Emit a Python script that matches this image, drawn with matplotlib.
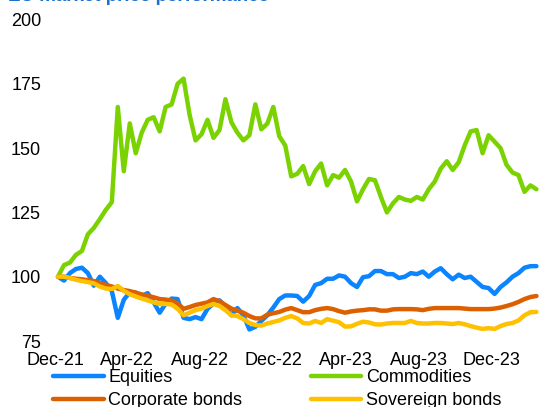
import matplotlib
matplotlib.use("Agg")
import matplotlib.pyplot as plt
import pandas as pd

plt.rcParams['font.family'] = ['Liberation Sans', 'DejaVu Sans']

title = "EU market price performance"
start_date = "2021-12-06"
step = "10D"
tick_dates = ["2021-12-01", "2022-04-01", "2022-08-01", "2022-12-01",
              "2023-04-01", "2023-08-01", "2023-12-01"]
tick_labels = ["Dec-21", "Apr-22", "Aug-22", "Dec-22", "Apr-23", "Aug-23", "Dec-23"]
y_ticks = [75, 100, 125, 150, 175, 200]

equities = [100, 98.5, 101.4, 103, 103.5, 101.4, 96.5, 100, 97.5, 94.4,
            84, 91, 94, 93.8, 92.5, 93.6, 90, 86, 89.5, 91.5,
            91.3, 84, 83.5, 84.3, 83.5, 87.5, 89.6, 90.8, 88.5, 85,
            87.8, 85, 79.5, 80.5, 82.8, 85, 88, 91.3, 92.7, 92.7,
            92.5, 90.3, 92.5, 96.8, 97.5, 99.2, 99.2, 100.5, 100, 97.5,
            96, 99.8, 100.2, 102.2, 102.2, 101, 101, 99.5, 100, 101.4,
            101, 102, 100, 102, 103.3, 101, 99, 100.8, 99.5, 100,
            98, 96, 95.6, 93.3, 96, 97.8, 100, 101.4, 103.5, 104.1,
            104.1]

commodities = [100, 104.5, 105.5, 108.5, 110, 116.5, 119, 122.4, 126, 129,
               166, 141, 159.6, 148, 156, 161, 162, 156.5, 166, 167,
               175, 177, 163, 153, 155.4, 161, 154, 157, 169, 160,
               156, 153, 155, 167, 157.3, 159.5, 166, 154.6, 151, 139,
               140, 143, 136, 141, 144, 135.5, 139.5, 138.5, 141.5, 137,
               129.3, 134, 138, 137.5, 131, 125, 128.5, 131, 130, 129.5,
               131, 130, 134, 137, 142, 144.9, 141.5, 144.5, 151, 156.5,
               157, 148, 155, 152.5, 150, 143.5, 140.5, 139.5, 133, 135.5,
               134]

corporate = [100, 100, 99.5, 99.2, 99, 98.6, 98.3, 97.5, 96.8, 96.2,
             95.4, 94.8, 94.4, 93.8, 93.1, 92.6, 92, 91.3, 91.1, 90.7,
             89.6, 87.5, 88.2, 89, 89.5, 90, 91.3, 90.5, 89, 87.6,
             86.8, 86, 84.7, 83.8, 83.8, 85.2, 85.8, 86.3, 87.2, 87.8,
             87, 86.2, 86.2, 87, 87.5, 87.8, 87.4, 86.6, 86, 86.5,
             86.8, 87, 87.3, 87.3, 86.8, 86.8, 87.3, 87.4, 87.4, 87.4,
             87.3, 87, 87.5, 87.8, 87.8, 87.8, 87.8, 87.8, 87.6, 87.4,
             87.4, 87.4, 87.4, 87.6, 88, 88.6, 89.3, 90.2, 91.3, 92.1,
             92.5]

sovereign = [100, 100, 99.5, 98.8, 98.3, 97.9, 97.4, 96.2, 95.4, 95.2,
             96.4, 94.5, 93.2, 92.3, 91.5, 90.8, 90, 89.4, 89.4, 89.2,
             87.5, 85, 86, 87, 87.6, 88.6, 89.4, 88.6, 87, 85,
             84.7, 83.5, 82, 81.2, 81, 81.8, 82.4, 83, 84, 84.7,
             83.8, 82, 81.8, 82.8, 82, 83.5, 82.9, 82.3, 80.6, 80.7,
             81.7, 82.5, 82.2, 81.5, 81.4, 81.8, 82, 82, 82, 82.8,
             82, 81.8, 81.8, 82, 82, 81.8, 81.6, 82, 81.5, 80.8,
             80.2, 79.7, 80, 79.7, 80.8, 81.6, 82, 83, 85, 86.2,
             86.3]

series_names = ["Equities", "Commodities", "Corporate bonds", "Sovereign bonds"]
colors = ["#0A84FF", "#7AD200", "#DC6000", "#FFC000"]

dates = pd.date_range(start_date, periods=len(equities), freq=step)

fig = plt.figure(figsize=(5.53, 4.07), dpi=100)
ax = fig.add_axes([55 / 553, 1 - 341 / 407, 491 / 553, 321.5 / 407])

handles = []
for name, vals, c in zip(series_names, [equities, commodities, corporate, sovereign], colors):
    h, = ax.plot(dates, vals, color=c, lw=3.2, solid_joinstyle='round',
                 solid_capstyle='round', label=name)
    handles.append(h)

ax.set_ylim(75, 200)
ax.set_yticks(y_ticks)
ax.set_xlim(pd.Timestamp("2021-12-01"), pd.Timestamp("2024-03-01"))
ax.set_xticks([pd.Timestamp(d) for d in tick_dates])
ax.set_xticklabels(tick_labels)
for s in ax.spines.values():
    s.set_visible(False)
ax.tick_params(axis='both', length=0, labelsize=13)
ax.tick_params(axis='y', pad=10)
ax.tick_params(axis='x', pad=8)

leg = fig.legend([handles[0], handles[2], handles[1], handles[3]],
                 [series_names[0], series_names[2], series_names[1], series_names[3]],
                 ncol=2, loc='upper left', bbox_to_anchor=(53 / 553, 1 - 369 / 407),
                 frameon=False, fontsize=13, handlelength=2.8, handletextpad=0.25,
                 columnspacing=3.8, labelspacing=0.35, borderaxespad=0, borderpad=0)

fig.text(8 / 553, 1 - 1 / 407, title, color="#1F70CC", fontsize=13.5,
         fontweight='bold', ha='left', va='baseline')

fig.savefig("out.png", dpi=100)
